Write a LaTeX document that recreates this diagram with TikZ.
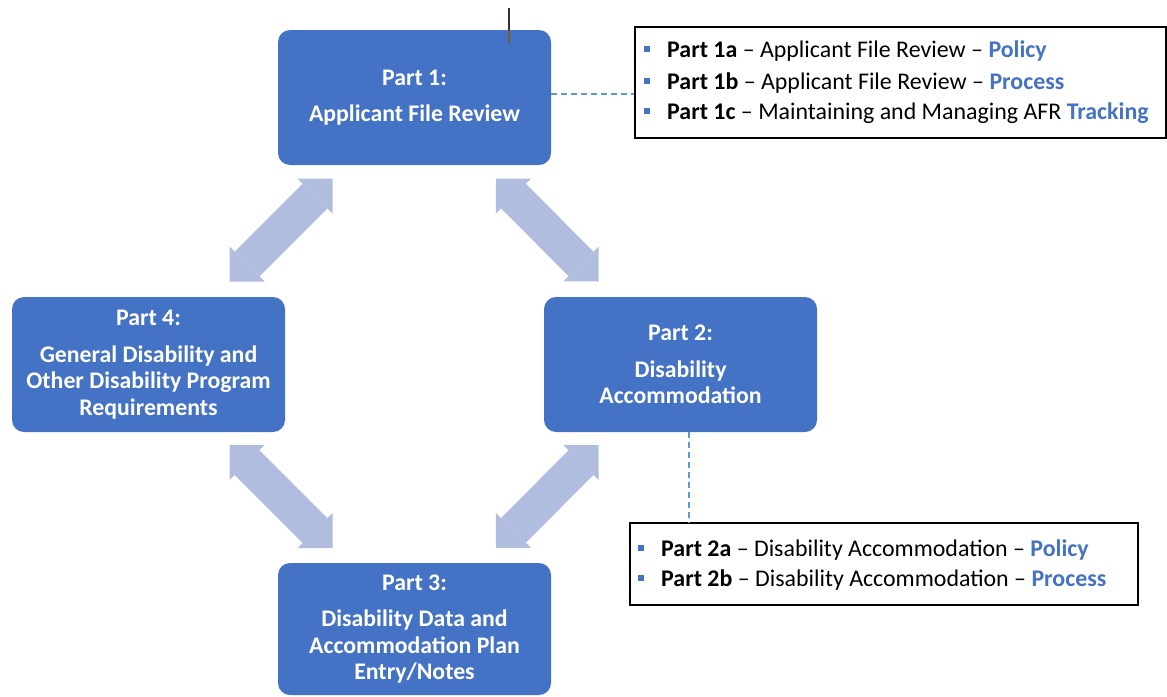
\documentclass[tikz,border=0pt]{standalone}
\usepackage{fontspec}
\setmainfont{Carlito}
\usetikzlibrary{arrows.meta}
\definecolor{boxblue}{RGB}{68,114,196}
\definecolor{arrowblue}{RGB}{176,189,222}
\definecolor{dashblue}{RGB}{91,155,213}
\definecolor{linkblue}{RGB}{68,114,196}
\begin{document}
\begin{tikzpicture}[x=1pt,y=-1pt,
  partbox/.style={fill=boxblue, rounded corners=12pt, text=white, align=center, inner sep=0pt, minimum width=273pt, font=\bfseries\fontsize{23.8}{26.5}\selectfont},
  legendbox/.style={draw=black, line width=1.3pt, inner sep=0pt},
  legendline/.style={anchor=base west, inner sep=0pt, font=\fontsize{23.9}{28}\selectfont},
  bulletsq/.style={fill=boxblue, minimum size=6pt, inner sep=0pt},
  blockarrow/.style={draw=arrowblue, line width=35pt, {Triangle[width=49.5pt,length=24.75pt,line width=0pt]}-{Triangle[width=49.5pt,length=24.75pt,line width=0pt]}},
  dashlink/.style={draw=dashblue, line width=1.2pt, dash pattern=on 6pt off 4pt}
]
\useasboundingbox (0,0) rectangle (1167,696);

% part boxes
\node[partbox, minimum height=135pt] (p1) at (414.5,97.5) {Part 1:\\[9.5pt]Applicant File Review};
\node[partbox, minimum height=135pt] (p2) at (680.5,364.5) {Part 2:\\[10pt]Disability\\Accommodation};
\node[partbox, minimum height=135pt] (p4) at (148.5,364.5) {Part 4:\\[10pt]General Disability and\\Other Disability Program\\Requirements};
\node[partbox, minimum height=132pt] (p3) at (414.5,629) {Part 3:\\[10pt]Disability Data and\\Accommodation Plan\\Entry/Notes};

% block arrows
\coordinate (a14s) at (332.5,178.5);
\coordinate (a14e) at (229.5,281.5);
\coordinate (a12s) at (496,178.5);
\coordinate (a12e) at (598.5,281.5);
\coordinate (a43s) at (229.5,445);
\coordinate (a43e) at (332.5,548);
\coordinate (a23s) at (598.5,445);
\coordinate (a23e) at (496,548);
\draw[blockarrow] (a14s) -- (a14e);
\draw[blockarrow] (a12s) -- (a12e);
\draw[blockarrow] (a43s) -- (a43e);
\draw[blockarrow] (a23s) -- (a23e);

% top line
\coordinate (topend) at (509,8);
\draw[line width=1.4pt, black!80] (topend) -- ([xshift=94.5pt]p1.north);
\draw[line width=1.4pt, brown!70!black] ([xshift=94.5pt]p1.north) -- ([xshift=94.5pt,yshift=-13pt]p1.north);

% legend 1
\node[legendbox, minimum width=531pt, minimum height=111pt] (leg1) at (900.5,82.5) {};
\node[bulletsq] (b1a) at (647,49) {};
\node[bulletsq] (b1b) at (647,81) {};
\node[bulletsq] (b1c) at (647,111) {};
\node[legendline] (l1a) at (667,57) {\textbf{Part 1a} – Applicant File Review – \textcolor{linkblue}{\textbf{Policy}}};
\node[legendline] (l1b) at (667,89) {\textbf{Part 1b} – Applicant File Review – \textcolor{linkblue}{\textbf{Process}}};
\node[legendline] (l1c) at (667,119) {\textbf{Part 1c} – Maintaining and Managing AFR \textcolor{linkblue}{\textbf{Tracking}}};

% legend 2
\node[legendbox, minimum width=508pt, minimum height=82pt] (leg2) at (884,564) {};
\node[bulletsq] (b2a) at (641,548) {};
\node[bulletsq] (b2b) at (641,578) {};
\node[legendline] (l2a) at (661,556) {\textbf{Part 2a} – Disability Accommodation – \textcolor{linkblue}{\textbf{Policy}}};
\node[legendline] (l2b) at (661,586) {\textbf{Part 2b} – Disability Accommodation – \textcolor{linkblue}{\textbf{Process}}};

% dashed connectors
\draw[dashlink] ([yshift=3.5pt]p1.east) -- ([yshift=3.5pt]p1.east -| leg1.west);
\draw[dashlink] ([xshift=8.5pt]p2.south) -- ([xshift=8.5pt]p2.south |- leg2.north);
\end{tikzpicture}
\end{document}
